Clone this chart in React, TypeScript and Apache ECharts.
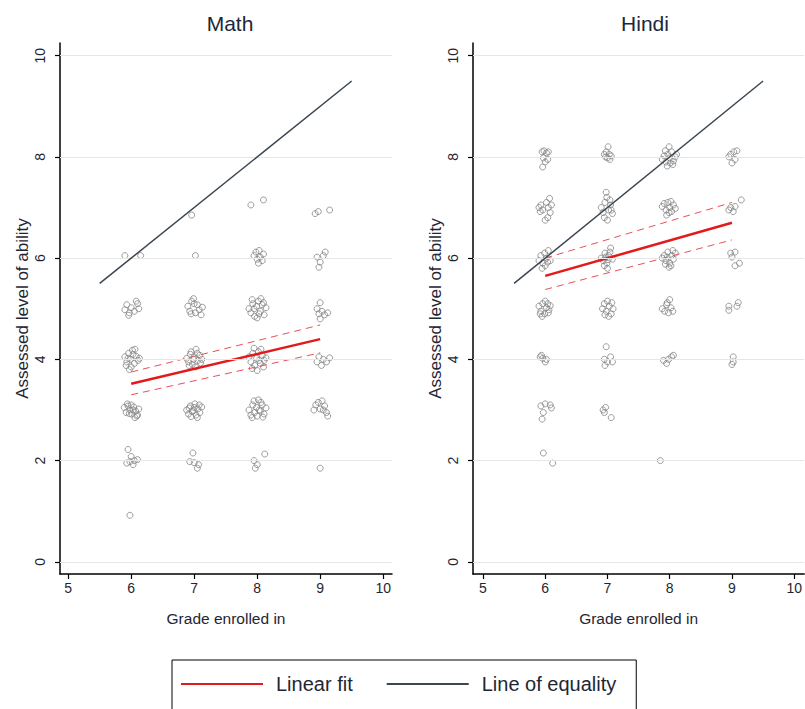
import React, { useEffect, useRef } from "react";
import * as echarts from "echarts";

const xTicks = [5, 6, 7, 8, 9, 10];
const yTicks = [0, 2, 4, 6, 8, 10];
const panelTitles = ["Math", "Hindi"];

const mathPoints: [number, number][] = [
  [5.98, 0.92],
  [5.95, 2.22], [6.0, 2.08], [5.93, 1.95], [5.98, 1.98], [6.05, 2.0], [6.1, 2.02], [6.03, 1.92],
  [5.89, 3.05], [5.92, 2.95], [5.95, 3.08], [5.98, 3.0], [6.01, 2.92], [6.04, 3.06], [6.07, 2.98], [6.1, 2.9], [6.12, 3.02], [5.94, 3.12], [6.0, 3.1], [6.06, 2.85], [6.09, 2.88], [5.97, 2.93], [6.03, 3.0],
  [5.9, 4.05], [5.93, 3.95], [5.96, 4.12], [5.99, 4.0], [6.02, 4.18], [6.05, 3.92], [6.08, 4.06], [6.11, 3.98], [5.92, 3.88], [6.0, 3.85], [6.06, 4.2], [5.95, 4.02], [6.03, 4.1], [6.13, 4.02], [5.97, 3.8],
  [5.9, 4.98], [5.93, 5.08], [5.97, 4.92], [6.0, 5.02], [6.05, 4.95], [6.1, 5.1], [6.12, 5.0], [6.08, 5.15], [5.96, 4.87],
  [5.9, 6.05], [6.15, 6.05],
  [6.98, 2.15], [6.93, 1.98], [7.0, 1.96], [7.05, 1.85], [7.07, 1.92],
  [6.88, 3.0], [6.91, 2.92], [6.94, 3.08], [6.97, 2.97], [7.0, 3.05], [7.03, 2.9], [7.06, 3.02], [7.09, 2.95], [7.12, 3.06], [6.95, 2.87], [7.01, 3.12], [7.05, 2.85], [6.92, 3.04], [7.08, 3.1], [6.99, 2.99],
  [6.88, 4.02], [6.91, 3.95], [6.94, 4.1], [6.97, 3.9], [7.0, 4.05], [7.03, 4.2], [7.06, 3.98], [7.09, 4.08], [7.12, 4.0], [6.95, 4.15], [7.02, 3.85], [7.05, 4.12], [6.92, 3.88], [7.1, 3.93], [6.99, 4.0],
  [6.9, 5.05], [6.93, 4.95], [6.96, 5.15], [6.99, 5.2], [7.02, 4.92], [7.05, 5.08], [7.08, 4.98], [7.11, 4.88], [6.95, 4.9], [7.0, 5.1], [7.13, 5.03],
  [7.02, 6.05], [6.96, 6.85],
  [7.95, 2.0], [8.12, 2.13], [7.97, 1.85], [8.0, 1.92],
  [7.87, 3.0], [7.9, 2.9], [7.93, 3.1], [7.96, 2.95], [7.99, 3.05], [8.02, 3.2], [8.05, 2.98], [8.08, 3.1], [8.11, 2.92], [8.14, 3.04], [7.92, 2.85], [8.0, 2.88], [8.06, 3.15], [7.95, 3.18], [8.03, 3.0], [8.09, 2.86],
  [7.87, 4.05], [7.9, 3.95], [7.93, 4.12], [7.96, 3.88], [7.99, 4.02], [8.02, 4.15], [8.05, 3.92], [8.08, 4.08], [8.11, 3.98], [8.14, 4.03], [7.92, 3.82], [8.0, 3.78], [8.06, 4.2], [7.95, 4.22], [8.03, 3.98], [8.1, 3.85],
  [7.87, 5.0], [7.9, 4.92], [7.93, 5.1], [7.96, 4.85], [7.99, 5.05], [8.02, 5.15], [8.05, 4.95], [8.08, 5.08], [8.11, 4.88], [8.14, 5.02], [7.92, 5.18], [8.0, 4.82], [8.06, 5.2], [7.95, 5.0], [8.03, 4.9], [8.1, 5.12],
  [7.95, 6.05], [7.98, 6.12], [8.0, 5.98], [8.03, 6.15], [8.05, 6.02], [8.08, 5.95], [8.1, 6.08], [8.02, 5.9],
  [7.9, 7.05], [8.1, 7.15],
  [9.0, 1.85],
  [8.9, 3.0], [8.93, 3.1], [8.97, 3.15], [9.0, 3.02], [9.03, 3.18], [9.07, 3.08], [9.1, 2.95], [9.12, 2.88], [9.05, 3.0],
  [8.95, 3.95], [8.98, 4.05], [9.02, 3.88], [9.05, 4.0], [9.1, 3.95], [9.15, 4.03],
  [8.95, 5.0], [8.98, 4.9], [9.0, 5.12], [9.03, 4.95], [9.07, 4.88], [9.12, 4.92], [9.0, 4.8],
  [8.95, 6.02], [9.05, 6.05], [9.08, 6.12], [9.0, 5.92], [8.98, 5.82],
  [8.92, 6.88], [8.97, 6.92], [9.15, 6.95],
];

const hindiPoints: [number, number][] = [
  [5.97, 2.15], [6.12, 1.95],
  [5.93, 3.08], [6.0, 3.12], [6.08, 3.1], [5.97, 2.95], [6.1, 3.04], [5.95, 2.82],
  [5.92, 4.05], [5.96, 4.02], [6.0, 3.95], [5.94, 4.08], [6.02, 4.0],
  [5.9, 5.05], [5.93, 4.95], [5.96, 5.1], [5.99, 4.9], [6.02, 5.02], [6.05, 4.92], [6.08, 5.06], [5.95, 4.85], [6.0, 5.15], [6.06, 4.98], [5.92, 4.9], [6.04, 5.1],
  [5.9, 5.95], [5.93, 6.05], [5.96, 5.9], [5.99, 6.1], [6.02, 6.0], [6.05, 6.15], [6.08, 5.95], [5.95, 5.8], [6.0, 5.85], [6.04, 5.92],
  [5.9, 7.0], [5.93, 7.05], [5.96, 6.95], [5.92, 6.92], [6.02, 7.1], [6.05, 7.0], [6.08, 6.9], [6.1, 7.05], [6.04, 6.8], [6.0, 6.75], [6.07, 7.18],
  [5.95, 8.1], [5.98, 8.12], [6.02, 8.08], [6.05, 8.1], [5.97, 7.98], [6.0, 7.9], [6.04, 7.95], [5.96, 7.8],
  [6.93, 3.0], [6.97, 3.05], [7.06, 2.85], [6.95, 2.95],
  [6.98, 4.25], [6.95, 4.0], [7.0, 3.95], [7.08, 3.95], [7.05, 4.05], [6.96, 3.88],
  [6.92, 5.0], [6.95, 5.1], [6.98, 4.95], [7.0, 5.15], [7.03, 5.05], [7.06, 4.9], [7.09, 5.0], [6.96, 4.88], [7.02, 4.85], [7.07, 5.12],
  [6.9, 6.0], [6.93, 5.95], [6.96, 6.1], [6.99, 5.9], [7.02, 6.05], [7.05, 6.2], [7.08, 5.98], [6.95, 5.85], [7.0, 5.8], [7.04, 6.12], [6.97, 6.02], [7.01, 5.97],
  [6.9, 7.0], [6.93, 6.9], [6.96, 7.1], [6.99, 7.2], [7.02, 6.95], [7.05, 7.05], [7.08, 6.88], [6.95, 6.8], [7.0, 6.75], [7.04, 7.15], [6.98, 7.3], [7.06, 6.95],
  [6.95, 8.05], [6.98, 8.1], [7.0, 7.98], [7.03, 8.05], [7.06, 8.02], [6.97, 8.0], [7.04, 7.95], [7.01, 8.2],
  [7.85, 2.0],
  [7.9, 3.98], [7.95, 3.92], [7.98, 4.0], [8.03, 4.05], [8.06, 4.08],
  [7.88, 5.0], [7.92, 4.95], [7.95, 5.08], [7.98, 4.92], [8.02, 5.02], [8.05, 4.95], [8.0, 5.18], [7.96, 5.12],
  [7.88, 6.0], [7.91, 6.05], [7.94, 5.95], [7.97, 6.12], [8.0, 5.9], [8.03, 6.05], [8.06, 5.98], [8.09, 6.1], [7.93, 5.88], [7.99, 5.82], [8.05, 6.15], [8.02, 5.85], [7.96, 6.02],
  [7.88, 7.02], [7.91, 7.08], [7.94, 6.95], [7.97, 7.1], [8.0, 7.0], [8.03, 6.92], [8.06, 7.05], [8.09, 6.98], [7.95, 6.85], [8.02, 7.12], [7.99, 6.9],
  [7.88, 7.95], [7.91, 8.02], [7.94, 7.9], [7.97, 8.05], [8.0, 7.98], [8.03, 8.1], [8.06, 7.92], [8.09, 8.0], [7.93, 8.12], [7.99, 8.2], [8.05, 7.85], [8.01, 7.88], [7.96, 7.82], [8.11, 8.05],
  [9.02, 3.95], [9.02, 4.05], [9.0, 3.9],
  [8.95, 4.97], [8.95, 5.05], [9.08, 5.05], [9.1, 5.12],
  [8.98, 6.1], [9.0, 6.02], [9.05, 6.12], [9.05, 5.85], [9.12, 5.9],
  [8.95, 6.95], [8.98, 7.0], [9.02, 6.92], [9.05, 7.02], [9.15, 7.15],
  [8.95, 8.0], [8.98, 8.05], [9.03, 8.1], [9.05, 7.95], [9.0, 7.88], [9.08, 8.12],
];

const mathFit: [number, number][] = [[6, 3.52], [9, 4.4]];
const mathCiUpper: [number, number][] = [[6, 3.75], [9, 4.68]];
const mathCiLower: [number, number][] = [[6, 3.3], [9, 4.13]];
const hindiFit: [number, number][] = [[6, 5.65], [9, 6.7]];
const hindiCiUpper: [number, number][] = [[6, 6.0], [9, 7.1]];
const hindiCiLower: [number, number][] = [[6, 5.38], [9, 6.36]];
const equalityLine: [number, number][] = [[5.5, 5.5], [9.5, 9.5]];

const FONT = "Liberation Sans";
const TEXT = "#1f2633";

export default function App() {
  const ref = useRef<HTMLDivElement>(null);
  useEffect(() => {
    if (!ref.current) return;
    const chart = echarts.init(ref.current, null, { renderer: "svg" });
    const grids = [
      { left: 60, top: 43, width: 332, height: 531 },
      { left: 473, top: 43, width: 332, height: 531 },
    ];
    const xRanges = [
      [4.87, 10.14],
      [4.84, 10.16],
    ];
    const mkX = (i: number) => ({
      type: "value",
      gridIndex: i,
      min: xRanges[i][0],
      max: xRanges[i][1],
      name: "Grade enrolled in",
      nameLocation: "middle",
      nameGap: 36,
      nameTextStyle: { fontFamily: FONT, fontSize: 15.5, color: TEXT },
      axisLine: { show: true, onZero: false, lineStyle: { color: "#000", width: 1.5 } },
      axisTick: { show: true, length: 5, customValues: xTicks, lineStyle: { color: "#000", width: 1.2 } },
      axisLabel: { customValues: xTicks, fontFamily: FONT, fontSize: 14, color: TEXT, margin: 7 },
      splitLine: { show: false },
    });
    const mkY = (i: number) => ({
      type: "value",
      gridIndex: i,
      min: -0.24,
      max: 10.25,
      name: "Assessed level of ability",
      nameLocation: "middle",
      nameGap: 29,
      nameRotate: 90,
      nameTextStyle: { fontFamily: FONT, fontSize: 17, color: TEXT },
      axisLine: { show: true, onZero: false, lineStyle: { color: "#000", width: 1.5 } },
      axisTick: { show: true, length: 5, customValues: yTicks, lineStyle: { color: "#000", width: 1.2 } },
      axisLabel: { customValues: yTicks, rotate: 90, fontFamily: FONT, fontSize: 14, color: TEXT, margin: 13 },
      splitLine: { show: false },
    });
    const panels = [
      { pts: mathPoints, fit: mathFit, up: mathCiUpper, lo: mathCiLower },
      { pts: hindiPoints, fit: hindiFit, up: hindiCiUpper, lo: hindiCiLower },
    ];
    const series: any[] = [];
    panels.forEach((p, i) => {
      series.push({
        type: "scatter",
        xAxisIndex: i,
        yAxisIndex: i,
        data: p.pts,
        symbol: "circle",
        symbolSize: 6,
        itemStyle: { color: "rgba(0,0,0,0)", borderColor: "#858585", borderWidth: 1 },
        markLine: {
          silent: true,
          symbol: "none",
          label: { show: false },
          lineStyle: { color: "#e6e6e6", type: "solid", width: 1 },
          data: yTicks.map((v) => ({ yAxis: v })),
        },
        z: 2,
      });
      series.push({
        type: "line",
        name: "Linear fit",
        xAxisIndex: i,
        yAxisIndex: i,
        data: p.fit,
        symbol: "none",
        lineStyle: { color: "#e31a1c", width: 2.5 },
        itemStyle: { color: "#e31a1c" },
        z: 4,
      });
      [p.up, p.lo].forEach((d) =>
        series.push({
          type: "line",
          xAxisIndex: i,
          yAxisIndex: i,
          data: d,
          symbol: "none",
          lineStyle: { color: "#e8505a", width: 1, type: [7, 5] },
          z: 3,
        })
      );
      series.push({
        type: "line",
        name: "Line of equality",
        xAxisIndex: i,
        yAxisIndex: i,
        data: equalityLine,
        symbol: "none",
        lineStyle: { color: "#3b4652", width: 1.5 },
        itemStyle: { color: "#3b4652" },
        z: 5,
      });
    });
    chart.setOption({
      animation: false,
      backgroundColor: "#ffffff",
      title: [
        { text: panelTitles[0], left: 225, top: 8, textAlign: "center", textStyle: { fontFamily: FONT, fontSize: 21, fontWeight: "normal", color: "#1d2738" } },
        { text: panelTitles[1], left: 640, top: 8, textAlign: "center", textStyle: { fontFamily: FONT, fontSize: 21, fontWeight: "normal", color: "#1d2738" } },
      ],
      grid: grids,
      xAxis: [mkX(0), mkX(1)],
      yAxis: [mkY(0), mkY(1)],
      legend: {
        data: ["Linear fit", "Line of equality"],
        left: 172,
        top: 660,
        orient: "horizontal",
        itemWidth: 82,
        itemHeight: 14,
        itemGap: 33,
        padding: [14, 20, 20, 8],
        borderColor: "#000",
        borderWidth: 1,
        selectedMode: false,
        itemStyle: { color: "rgba(0,0,0,0)", borderWidth: 0, opacity: 0 },
        textStyle: { fontFamily: FONT, fontSize: 20, color: TEXT, padding: [0, 0, 0, 8] },
      },
      series,
    });
    return () => chart.dispose();
  }, []);
  return <div ref={ref} style={{ width: 805, height: 709, position: "absolute", left: 0, top: 0 }} />;
}
